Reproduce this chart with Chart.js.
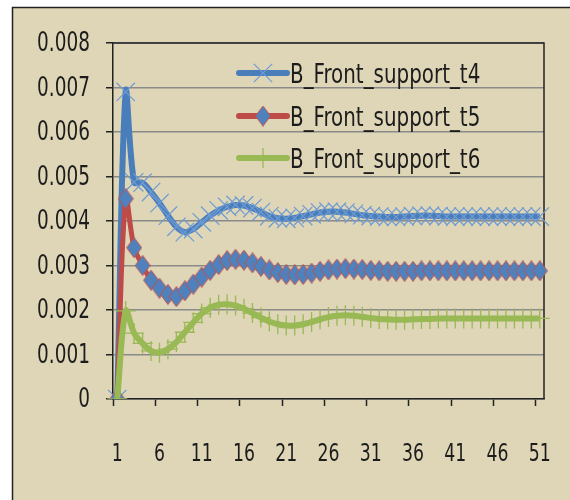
<!DOCTYPE html>
<html>
<head>
<meta charset="utf-8">
<script src="https://cdn.jsdelivr.net/npm/chart.js@4.4.1/dist/chart.umd.min.js"></script>
<style>
html, body { margin: 0; padding: 0; background: #fff; }
#wrap { width: 570px; height: 500px; }
</style>
</head>
<body>
<div id="wrap"><canvas id="chart1" width="570" height="500"></canvas></div>
<script>
// data
var categories = ['1','2','3','4','5','6','7','8','9','10','11','12','13','14','15','16','17','18','19','20',
	'21','22','23','24','25','26','27','28','29','30','31','32','33','34','35','36','37','38','39','40',
	'41','42','43','44','45','46','47','48','49','50','51'];

var seriesNames = ['B_Front_support_t4', 'B_Front_support_t5', 'B_Front_support_t6'];

var t4 = [0, 0.0069, 0.00487, 0.00486, 0.00465, 0.00440, 0.00412, 0.00387, 0.00375, 0.00382,
	0.00397, 0.00412, 0.00424, 0.00432, 0.00436, 0.00435, 0.00429, 0.00420, 0.00411, 0.00406,
	0.00405, 0.00407, 0.00411, 0.00415, 0.00419, 0.00421, 0.00421, 0.00419, 0.00416, 0.00413,
	0.00411, 0.00410, 0.00409, 0.00409, 0.00410, 0.00411, 0.00412, 0.00412, 0.00411, 0.00410,
	0.00410, 0.00410, 0.00410, 0.00410, 0.00410, 0.00410, 0.00410, 0.00410, 0.00410, 0.00410, 0.00410];

var t5 = [0, 0.0045, 0.0034, 0.0030, 0.00267, 0.00249, 0.00235, 0.00230, 0.00243, 0.00258,
	0.00274, 0.00289, 0.00302, 0.00311, 0.00314, 0.00312, 0.00306, 0.00298, 0.00290, 0.00284,
	0.00280, 0.00279, 0.00280, 0.00283, 0.00287, 0.00290, 0.00292, 0.00293, 0.00292, 0.00291,
	0.00289, 0.00288, 0.00287, 0.00287, 0.00287, 0.00287, 0.00288, 0.00288, 0.00288, 0.00288,
	0.00288, 0.00288, 0.00288, 0.00288, 0.00288, 0.00288, 0.00288, 0.00288, 0.00288, 0.00288, 0.00288];

var t6 = [0, 0.00198, 0.00148, 0.00125, 0.00108, 0.00104, 0.00112, 0.00128, 0.00150, 0.00172,
	0.00192, 0.00205, 0.00212, 0.00213, 0.00210, 0.00203, 0.00193, 0.00183, 0.00174, 0.00168,
	0.00165, 0.00165, 0.00168, 0.00173, 0.00179, 0.00184, 0.00187, 0.00188, 0.00187, 0.00185,
	0.00182, 0.00180, 0.00179, 0.00178, 0.00178, 0.00179, 0.00180, 0.00180, 0.00181, 0.00181,
	0.00181, 0.00181, 0.00181, 0.00181, 0.00181, 0.00181, 0.00181, 0.00181, 0.00181, 0.00181, 0.00181];

var FONT = "'DejaVu Sans Condensed', 'Liberation Sans Narrow', sans-serif";
var INK = '#1c1c1c';

function yLabel(v) {
	return v === 0 ? '0' : v.toFixed(3);
}

// narrow text (the original uses a condensed face)
function narrowText(ctx, text, x, y, sx, align) {
	ctx.save();
	ctx.translate(x, y);
	ctx.scale(sx, 1);
	ctx.textAlign = align;
	ctx.fillText(text, 0, 0);
	ctx.restore();
}

// diamond marker as a small canvas (taller than wide, like the original)
function diamondMarker(w, h, fill, stroke) {
	var c = document.createElement('canvas');
	c.width = w; c.height = h;
	var g = c.getContext('2d');
	g.beginPath();
	g.moveTo(w / 2, 0.5);
	g.lineTo(w - 0.5, h / 2);
	g.lineTo(w / 2, h - 0.5);
	g.lineTo(0.5, h / 2);
	g.closePath();
	g.fillStyle = fill;
	g.fill();
	g.strokeStyle = stroke;
	g.lineWidth = 1;
	g.stroke();
	return c;
}
var diamond = diamondMarker(16, 21, '#4F81BD', '#C0504D');

// background frame, plot border, tick labels and legend
var framePlugin = {
	id: 'frame',
	beforeDraw: function(chart) {
		var ctx = chart.ctx;
		ctx.save();
		ctx.fillStyle = '#fff';
		ctx.fillRect(0, 0, chart.width, chart.height);
		ctx.fillStyle = '#DED6B7';
		ctx.fillRect(12, 7, chart.width, chart.height);
		ctx.strokeStyle = '#222';
		ctx.lineWidth = 1.5;
		ctx.beginPath();
		ctx.moveTo(12.5, chart.height);
		ctx.lineTo(12.5, 7.5);
		ctx.lineTo(chart.width, 7.5);
		ctx.stroke();
		ctx.restore();
	},
	beforeDatasetsDraw: function(chart) {
		var a = chart.chartArea, ctx = chart.ctx;
		ctx.save();
		ctx.strokeStyle = '#222';
		ctx.lineWidth = 1.5;
		ctx.beginPath();
		ctx.moveTo(a.left, a.top);
		ctx.lineTo(a.right, a.top);
		ctx.lineTo(a.right, a.bottom);
		ctx.stroke();

		// tick labels, placed from the library's scales
		var xs = chart.scales.x, ys = chart.scales.y;
		ctx.fillStyle = INK;
		ctx.textBaseline = 'alphabetic';
		ctx.font = '26px ' + FONT;
		ys.ticks.forEach(function(t, i) {
			narrowText(ctx, yLabel(t.value), a.left - 23, ys.getPixelForTick(i) + 8, 0.79, 'right');
		});
		ctx.font = '24px ' + FONT;
		xs.ticks.forEach(function(t, i) {
			if (i % 5 === 0) {
				narrowText(ctx, categories[i], xs.getPixelForTick(i), a.bottom + 62, 0.8, 'center');
			}
		});
		ctx.restore();
	},
	afterDatasetsDraw: function(chart) {
		var a = chart.chartArea, ctx = chart.ctx;
		var rows = [30, 73, 115];
		ctx.save();
		chart.data.datasets.forEach(function(ds, i) {
			var y = a.top + rows[i];
			var x0 = a.left + 126, x1 = a.left + 174;
			ctx.strokeStyle = ds.borderColor;
			ctx.lineWidth = 6;
			ctx.lineCap = 'round';
			ctx.beginPath();
			ctx.moveTo(x0, y);
			ctx.lineTo(x1, y);
			ctx.stroke();
			ctx.lineCap = 'butt';
			ctx.fillStyle = ds.pointBackgroundColor;
			ctx.strokeStyle = ds.pointBorderColor;
			ctx.lineWidth = ds.pointBorderWidth;
			Chart.helpers.drawPoint(ctx, {
				pointStyle: ds.pointStyle,
				radius: ds.pointRadius,
				rotation: 0,
				borderWidth: ds.pointBorderWidth
			}, (x0 + x1) / 2, y);
			ctx.fillStyle = INK;
			ctx.font = '26px ' + FONT;
			ctx.textBaseline = 'alphabetic';
			narrowText(ctx, ds.label, x1 + 3, y + 9.5, 0.85, 'left');
		});
		ctx.restore();
	}
};

var chart = new Chart(document.getElementById('chart1'), {
	type: 'line',
	data: {
		labels: categories,
		datasets: [{
			label: seriesNames[0],
			data: t4,
			borderColor: '#4A7EBB',
			borderWidth: 6,
			tension: 0.35,
			pointStyle: 'crossRot',
			pointRadius: 13,
			pointBorderWidth: 1.2,
			pointBorderColor: '#6E9BD3',
			pointBackgroundColor: '#6E9BD3',
			order: 3
		}, {
			label: seriesNames[1],
			data: t5,
			borderColor: '#BE4B48',
			borderWidth: 5,
			tension: 0.35,
			pointStyle: diamond,
			pointRadius: 10,
			pointBorderWidth: 1,
			pointBorderColor: '#C0504D',
			pointBackgroundColor: '#4F81BD',
			order: 2
		}, {
			label: seriesNames[2],
			data: t6,
			borderColor: '#98B954',
			borderWidth: 6,
			tension: 0.35,
			pointStyle: 'cross',
			pointRadius: 10,
			pointBorderWidth: 1.3,
			pointBorderColor: '#98B954',
			pointBackgroundColor: '#98B954',
			order: 1
		}]
	},
	options: {
		responsive: false,
		animation: false,
		devicePixelRatio: 1,
		layout: {
			padding: { left: 0, top: 43, right: 26, bottom: 0 }
		},
		plugins: {
			legend: { display: false },
			tooltip: { enabled: false }
		},
		scales: {
			x: {
				type: 'category',
				offset: true,
				grid: {
					offset: true,
					drawOnChartArea: false,
					drawTicks: true,
					tickLength: 7,
					tickWidth: 1.5,
					tickColor: function(c) {
						return (c.index !== undefined && c.index % 5 === 0) ? '#222' : 'rgba(0,0,0,0)';
					}
				},
				border: { color: '#222', width: 1.5 },
				ticks: { display: false, autoSkip: false, maxRotation: 0 },
				afterFit: function(s) { s.height = 101; }
			},
			y: {
				min: 0,
				max: 0.008,
				grid: {
					color: '#8A8A8A',
					lineWidth: 1.5,
					tickLength: 7,
					tickColor: '#222'
				},
				border: { color: '#222', width: 1.5 },
				ticks: { display: false, stepSize: 0.001 },
				afterFit: function(s) { s.width = 113; }
			}
		}
	},
	plugins: [framePlugin]
});
</script>
</body>
</html>
